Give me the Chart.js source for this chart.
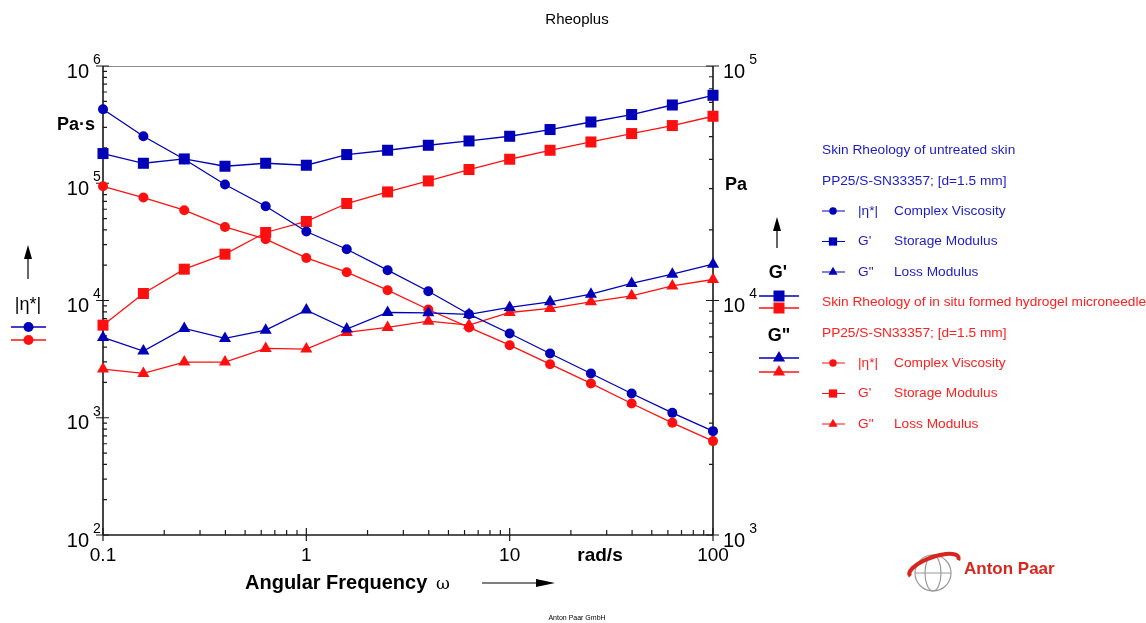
<!DOCTYPE html>
<html>
<head>
<meta charset="utf-8">
<title>Rheoplus</title>
<script src="https://cdn.jsdelivr.net/npm/chart.js@4.4.1/dist/chart.umd.min.js"></script>
<style>
  html, body { margin: 0; padding: 0; background: #fff; }
  #wrap { position: relative; width: 1146px; height: 623px; }
</style>
</head>
<body>
<div id="wrap"><canvas id="rheo"></canvas></div>
<script>
  const DOM = id => document.getElementById(id);

  const freq = [0.1, 0.158, 0.251, 0.398, 0.631, 1, 1.58, 2.51, 3.98, 6.31, 10, 15.8, 25.1, 39.8, 63.1, 100];

  const etaUntreated = [427600, 251700, 160300, 97500, 63700, 38750, 27360, 18130, 11990, 7640, 5230, 3530, 2385, 1611, 1101, 769];
  const gpUntreated  = [42330, 38480, 40150, 37370, 38480, 37740, 41910, 43720, 45920, 47900, 50160, 53580, 57710, 62080, 68190, 75010];
  const gppUntreated = [6960, 6083, 7600, 6890, 7475, 9100, 7550, 8890, 8860, 8720, 9340, 9870, 10640, 11820, 12950, 14290];

  const etaHydrogel = [94270, 75530, 58880, 42420, 33310, 23080, 17430, 12240, 8380, 5890, 4160, 2864, 1961, 1324, 905, 632];
  const gpHydrogel  = [7850, 10710, 13600, 15760, 19500, 21730, 25920, 29040, 32350, 36180, 40030, 43720, 47430, 51500, 55720, 61050];
  const gppHydrogel = [5098, 4887, 5462, 5462, 6248, 6205, 7307, 7675, 8166, 7850, 8890, 9250, 9870, 10470, 11540, 12290];

  const xTicks = [0.1, 1, 10, 100];
  const xTickLabels = ['0.1', '1', '10', '100'];
  const etaDecades = [2, 3, 4, 5, 6];
  const gDecades = [3, 4, 5];

  const BLUE = '#0000b8';
  const RED = '#ff1010';
  const FONT = '"Liberation Sans", Arial, sans-serif';

  const pairUp = vals => freq.map((f, i) => ({ x: f, y: vals[i] }));

  function series(label, vals, axis, color, style, radius) {
    return {
      label: label, data: pairUp(vals), yAxisID: axis,
      borderColor: color, backgroundColor: color, borderWidth: 1.3,
      pointStyle: style, pointRadius: radius, pointBorderWidth: 0,
      pointBackgroundColor: color, tension: 0, clip: false
    };
  }

  // --- DRAW HELPERS ---
  function txt(ctx, s, x, y, font, color, align) {
    ctx.font = font;
    ctx.fillStyle = color;
    ctx.textAlign = align || 'left';
    ctx.textBaseline = 'middle';
    ctx.fillText(s, x, y);
  }

  function marker(ctx, style, x, y, color) {
    ctx.fillStyle = color;
    ctx.beginPath();
    if (style === 'circle') {
      ctx.arc(x, y, 5, 0, Math.PI * 2);
    } else if (style === 'rect') {
      ctx.rect(x - 5.5, y - 5.5, 11, 11);
    } else {
      ctx.moveTo(x, y - 7);
      ctx.lineTo(x + 6.1, y + 3.5);
      ctx.lineTo(x - 6.1, y + 3.5);
      ctx.closePath();
    }
    ctx.fill();
  }

  function keyLine(ctx, x1, x2, y, style, color) {
    ctx.strokeStyle = color;
    ctx.lineWidth = 1.3;
    ctx.beginPath(); ctx.moveTo(x1, y); ctx.lineTo(x2, y); ctx.stroke();
    marker(ctx, style, (x1 + x2) / 2, y, color);
  }

  function arrowUp(ctx, x, yTip, yEnd) {
    ctx.strokeStyle = '#000'; ctx.fillStyle = '#000'; ctx.lineWidth = 1.2;
    ctx.beginPath(); ctx.moveTo(x, yTip + 10); ctx.lineTo(x, yEnd); ctx.stroke();
    ctx.beginPath(); ctx.moveTo(x, yTip); ctx.lineTo(x + 4, yTip + 14); ctx.lineTo(x - 4, yTip + 14); ctx.closePath(); ctx.fill();
  }

  function powLabel(ctx, exp, x, y, side) {
    // "10" with a raised exponent, as Rheoplus prints it
    const big = '20px ' + FONT, small = '14px ' + FONT;
    if (side === 'left') {
      txt(ctx, String(exp), x + 4, y - 6, small, '#000', 'left');
      txt(ctx, '10', x, y + 6, big, '#000', 'right');
    } else {
      txt(ctx, '10', x, y + 6, big, '#000', 'left');
      ctx.font = big;
      txt(ctx, String(exp), x + ctx.measureText('10').width + 4, y - 6, small, '#000', 'left');
    }
  }

  // --- AXES, TICKS AND FRAME ---
  const frameAxes = {
    id: 'frameAxes',
    beforeDatasetsDraw(chart) {
      const { ctx, chartArea: a, scales } = chart;
      const sx = scales.x, sl = scales.yEta, sr = scales.yG;
      ctx.save();

      // top border
      ctx.strokeStyle = '#8c8c8c'; ctx.lineWidth = 1;
      ctx.beginPath(); ctx.moveTo(a.left, a.top + 0.5); ctx.lineTo(a.right, a.top + 0.5); ctx.stroke();

      ctx.strokeStyle = '#1a1a1a'; ctx.lineWidth = 1.6;
      ctx.beginPath();
      ctx.moveTo(a.left, a.top); ctx.lineTo(a.left, a.bottom);
      ctx.moveTo(a.right, a.top); ctx.lineTo(a.right, a.bottom);
      ctx.moveTo(a.left, a.bottom); ctx.lineTo(a.right, a.bottom);
      ctx.stroke();

      ctx.lineWidth = 1.2;
      ctx.beginPath();
      // x ticks
      for (let d = -1; d <= 2; d++) {
        const base = Math.pow(10, d);
        const px = sx.getPixelForValue(base);
        ctx.moveTo(px, a.bottom - 7); ctx.lineTo(px, a.bottom + 6);
        if (d < 2) for (let k = 2; k <= 9; k++) {
          const mx = sx.getPixelForValue(k * base);
          ctx.moveTo(mx, a.bottom); ctx.lineTo(mx, a.bottom - 5);
        }
      }
      // left (Pa·s) ticks
      etaDecades.forEach(e => {
        const py = sl.getPixelForValue(Math.pow(10, e));
        ctx.moveTo(a.left - 7, py); ctx.lineTo(a.left + 6, py);
        if (e < 6) for (let k = 2; k <= 9; k++) {
          const my = sl.getPixelForValue(k * Math.pow(10, e));
          ctx.moveTo(a.left, my); ctx.lineTo(a.left + 4, my);
        }
      });
      // right (Pa) ticks
      gDecades.forEach(e => {
        const py = sr.getPixelForValue(Math.pow(10, e));
        ctx.moveTo(a.right - 7, py); ctx.lineTo(a.right + 6, py);
        if (e < 5) for (let k = 2; k <= 9; k++) {
          const my = sr.getPixelForValue(k * Math.pow(10, e));
          ctx.moveTo(a.right, my); ctx.lineTo(a.right - 4, my);
        }
      });
      ctx.stroke();
      ctx.restore();
    },

    afterDraw(chart) {
      const { ctx, chartArea: a, scales } = chart;
      const sx = scales.x, sl = scales.yEta, sr = scales.yG;
      ctx.save();

      txt(ctx, 'Rheoplus', 577, 20, '15px ' + FONT, '#000', 'center');

      // tick labels
      xTicks.forEach((v, i) => txt(ctx, xTickLabels[i], sx.getPixelForValue(v), a.bottom + 21, '19px ' + FONT, '#000', 'center'));
      etaDecades.forEach(e => powLabel(ctx, e, a.left - 14, sl.getPixelForValue(Math.pow(10, e)), 'left'));
      gDecades.forEach(e => powLabel(ctx, e, a.right + 10, sr.getPixelForValue(Math.pow(10, e)), 'right'));

      // axis titles
      txt(ctx, 'rad/s', 600, a.bottom + 21, 'bold 19px ' + FONT, '#000', 'center');
      txt(ctx, 'Angular Frequency', 245, 583, 'bold 20px ' + FONT, '#000', 'left');
      txt(ctx, 'ω', 436, 585, '17px "DejaVu Serif", serif', '#000', 'left');
      ctx.strokeStyle = '#000'; ctx.fillStyle = '#000'; ctx.lineWidth = 1.2;
      ctx.beginPath(); ctx.moveTo(482, 583); ctx.lineTo(540, 583); ctx.stroke();
      ctx.beginPath(); ctx.moveTo(555, 583); ctx.lineTo(536, 579); ctx.lineTo(536, 587); ctx.closePath(); ctx.fill();

      txt(ctx, 'Pa·s', 76, 125, 'bold 18px ' + FONT, '#000', 'center');
      txt(ctx, 'Pa', 736, 185, 'bold 18px ' + FONT, '#000', 'center');

      // left axis key
      arrowUp(ctx, 28, 245, 279);
      txt(ctx, '|η*|', 28, 305, '18px ' + FONT, '#000', 'center');
      keyLine(ctx, 11, 46, 327, 'circle', BLUE);
      keyLine(ctx, 11, 46, 340, 'circle', RED);

      // right axis key
      arrowUp(ctx, 777, 217, 248);
      txt(ctx, "G'", 778, 273, 'bold 18px ' + FONT, '#000', 'center');
      keyLine(ctx, 759, 799, 296, 'rect', BLUE);
      keyLine(ctx, 759, 799, 308, 'rect', RED);
      txt(ctx, 'G"', 779, 336, 'bold 18px ' + FONT, '#000', 'center');
      keyLine(ctx, 759, 799, 358, 'triangle', BLUE);
      keyLine(ctx, 759, 799, 372, 'triangle', RED);

      // series legend
      const blocks = [
        { title: 'Skin Rheology of untreated skin', color: '#1c1cc4', mark: BLUE, y: 150 },
        { title: 'Skin Rheology of in situ formed hydrogel microneedle', color: '#ff2020', mark: RED, y: 302 }
      ];
      const rows = [
        ['circle', '|η*|', 'Complex Viscosity'],
        ['rect', "G'", 'Storage Modulus'],
        ['triangle', 'G"', 'Loss Modulus']
      ];
      const lf = '13.7px ' + FONT;
      blocks.forEach(b => {
        txt(ctx, b.title, 822, b.y, lf, b.color, 'left');
        txt(ctx, 'PP25/S-SN33357; [d=1.5 mm]', 822, b.y + 31, lf, b.color, 'left');
        rows.forEach((r, i) => {
          const ry = b.y + 61 + i * 30.5;
          ctx.save();
          ctx.strokeStyle = b.mark; ctx.lineWidth = 1;
          ctx.beginPath(); ctx.moveTo(822, ry); ctx.lineTo(845, ry); ctx.stroke();
          ctx.restore();
          ctx.save(); ctx.translate(833, ry); ctx.scale(0.75, 0.75);
          marker(ctx, r[0], 0, 0, b.mark);
          ctx.restore();
          txt(ctx, r[1], 858, ry, lf, b.color, 'left');
          txt(ctx, r[2], 894, ry, lf, b.color, 'left');
        });
      });

      // Anton Paar logo
      ctx.strokeStyle = '#9a9a9a'; ctx.lineWidth = 1.2;
      ctx.beginPath(); ctx.arc(933, 573, 18, 0, Math.PI * 2); ctx.stroke();
      ctx.beginPath(); ctx.ellipse(933, 573, 8, 18, 0, 0, Math.PI * 2); ctx.stroke();
      ctx.beginPath(); ctx.moveTo(915, 573); ctx.lineTo(951, 573); ctx.stroke();
      ctx.strokeStyle = '#d8261f'; ctx.lineWidth = 4;
      ctx.beginPath(); ctx.ellipse(934, 566, 26, 9, -0.35, Math.PI * 0.95, Math.PI * 2.1); ctx.stroke();
      txt(ctx, 'Anton Paar', 964, 569, 'bold 17px ' + FONT, '#d8261f', 'left');

      txt(ctx, 'Anton Paar GmbH', 577, 618, '7px ' + FONT, '#000', 'center');
      ctx.restore();
    }
  };

  // --- CHART ---
  new Chart(DOM('rheo').getContext('2d'), {
    type: 'line',
    data: {
      datasets: [
        series('|η*| untreated', etaUntreated, 'yEta', BLUE, 'circle', 5),
        series("G' untreated", gpUntreated, 'yG', BLUE, 'rect', 7.8),
        series('G" untreated', gppUntreated, 'yG', BLUE, 'triangle', 7),
        series('|η*| hydrogel', etaHydrogel, 'yEta', RED, 'circle', 5),
        series("G' hydrogel", gpHydrogel, 'yG', RED, 'rect', 7.8),
        series('G" hydrogel', gppHydrogel, 'yG', RED, 'triangle', 7)
      ]
    },
    options: {
      responsive: true, maintainAspectRatio: false, animation: false,
      layout: { padding: { left: 103, right: 433, top: 66, bottom: 88 } },
      plugins: { legend: { display: false }, tooltip: { enabled: false }, title: { display: false } },
      scales: {
        x: { type: 'logarithmic', min: 0.1, max: 100, display: false },
        yEta: { type: 'logarithmic', position: 'left', min: 100, max: 1e6, display: false },
        yG: { type: 'logarithmic', position: 'right', min: 1000, max: 1e5, display: false }
      }
    },
    plugins: [frameAxes]
  });
</script>
</body>
</html>
